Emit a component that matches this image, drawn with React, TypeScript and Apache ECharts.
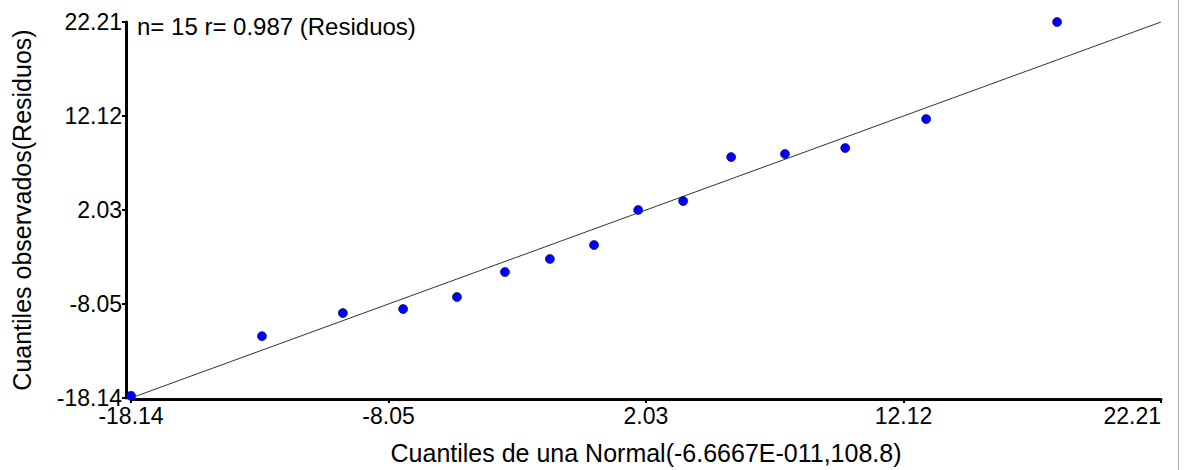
import React, { useEffect, useRef } from "react";
import * as echarts from "echarts";

const normalQuantiles = [-18.14, -13.01, -9.84, -7.48, -5.37, -3.49, -1.73, 0, 1.73, 3.49, 5.37, 7.48, 9.84, 13.01, 18.14];
const observedResiduals = [-17.9, -11.5, -9.02, -8.59, -7.3, -4.62, -3.22, -1.72, 2.04, 3.0, 7.72, 8.05, 8.69, 11.8, 22.21];
const tickValues = [-18.14, -8.05, 2.03, 12.12, 22.21];
const axisMin = -18.14;
const axisMax = 22.21;
const refLine = [[axisMin, axisMin], [axisMax, axisMax]];
const annotation = "n= 15 r= 0.987 (Residuos)";
const xTitle = "Cuantiles de una Normal(-6.6667E-011,108.8)";
const yTitle = "Cuantiles observados(Residuos)";

const FONT = "'Liberation Sans', Arial, sans-serif";

export default function App() {
  const ref = useRef<HTMLDivElement>(null);
  useEffect(() => {
    const chart = echarts.init(ref.current!, null, { renderer: "svg" });
    const points = normalQuantiles.map((x, i) => [x, observedResiduals[i]]);
    const fmt = (v: number) => v.toFixed(2);
    chart.setOption({
      animation: false,
      backgroundColor: "#ffffff",
      textStyle: { fontFamily: FONT },
      grid: { left: 131, right: 23, top: 22, bottom: 72, containLabel: false },
      xAxis: {
        type: "value",
        min: axisMin,
        max: axisMax,
        offset: 1,
        splitLine: { show: false },
        axisLine: { show: true, onZero: false, lineStyle: { color: "#000", width: 3 } },
        axisTick: { show: true, length: 4, lineStyle: { color: "#000", width: 2 }, customValues: tickValues },
        axisLabel: {
          customValues: tickValues,
          formatter: fmt,
          color: "#000",
          fontSize: 23,
          fontFamily: FONT,
          margin: 5,
          alignMaxLabel: "right",
        },
        name: xTitle,
        nameLocation: "middle",
        nameGap: 41,
        nameTextStyle: { color: "#000", fontSize: 25, fontFamily: FONT },
      },
      yAxis: {
        type: "value",
        min: axisMin,
        max: axisMax,
        offset: 5,
        splitLine: { show: false },
        axisLine: { show: true, onZero: false, lineStyle: { color: "#000", width: 3 } },
        axisTick: { show: true, length: 4, lineStyle: { color: "#000", width: 2 }, customValues: tickValues },
        axisLabel: {
          customValues: tickValues,
          formatter: fmt,
          color: "#000",
          fontSize: 23,
          fontFamily: FONT,
          margin: 4,
        },
        name: yTitle,
        nameLocation: "middle",
        nameGap: 92,
        nameRotate: 90,
        nameTextStyle: { color: "#000", fontSize: 25, fontFamily: FONT },
      },
      series: [
        {
          type: "line",
          data: refLine,
          symbol: "none",
          lineStyle: { color: "#333", width: 1 },
          silent: true,
          z: 1,
        },
        {
          type: "scatter",
          data: points,
          symbolSize: 9,
          clip: false,
          itemStyle: { color: "#0000ff", borderColor: "#000044", borderWidth: 0.6, opacity: 1 },
          z: 3,
        },
      ],
      graphic: [
        {
          type: "text",
          left: 137,
          top: 14,
          style: { text: annotation, fill: "#000", fontSize: 24, fontFamily: FONT },
        },
        {
          type: "line",
          shape: { x1: 1178.5, y1: 0, x2: 1178.5, y2: 470 },
          style: { stroke: "#b0b0b0", lineWidth: 1 },
        },
      ],
    });
    return () => chart.dispose();
  }, []);
  return (
    <div
      ref={ref}
      style={{ position: "fixed", left: 0, top: 0, width: 1184, height: 470, background: "#fff" }}
    />
  );
}
